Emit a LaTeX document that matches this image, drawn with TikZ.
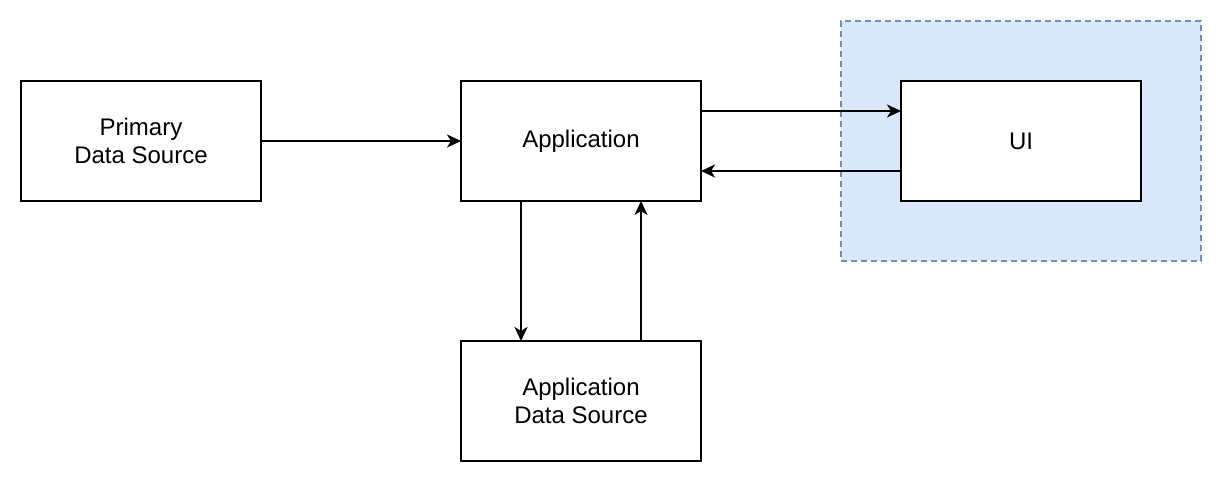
\documentclass[tikz,border=0pt]{standalone}
\usepackage{fontspec}
\setmainfont{Liberation Sans}
\usetikzlibrary{positioning, arrows.meta}

\definecolor{uifill}{HTML}{DAE8FC}
\definecolor{uiline}{HTML}{6C8EBF}

\begin{document}
\begin{tikzpicture}[
          x=1pt, y=-1pt,
          node distance=200pt and 140pt,
          block/.style={draw, line width=2pt, fill=white, outer sep=0pt, minimum width=240pt, minimum height=120pt,
            align=center, font=\fontsize{24}{28}\selectfont},
          link/.style={line width=2pt, -{Stealth[length=14pt, width=13pt, inset=4pt]}}
        ]
        \useasboundingbox (0,0) rectangle (1222,482);
        % shaded region behind the UI
        \node[fill=uifill, draw=uiline, dashed, line width=1.5pt, dash pattern=on 6pt off 4pt,
          minimum width=360pt, minimum height=240pt] (zone) at (1021,141) {};

        \node[block] (primary) at (141,141) {Primary\\Data Source};
        \node[block, right=200pt of primary] (app) {Application};
        \node[block, right=200pt of app] (ui) {UI};
        \node[block, below=140pt of app] (appdata) {Application\\Data Source};

        \draw[link] (primary) -- (app);
        \draw[link] ([yshift=30pt]app.east) -- ([yshift=30pt]ui.west);
        \draw[link] ([yshift=-30pt]ui.west) -- ([yshift=-30pt]app.east);
        \draw[link] ([xshift=-60pt]app.south) -- ([xshift=-60pt]appdata.north);
        \draw[link] ([xshift=60pt]appdata.north) -- ([xshift=60pt]app.south);
        
        \end{tikzpicture}
\end{document}
